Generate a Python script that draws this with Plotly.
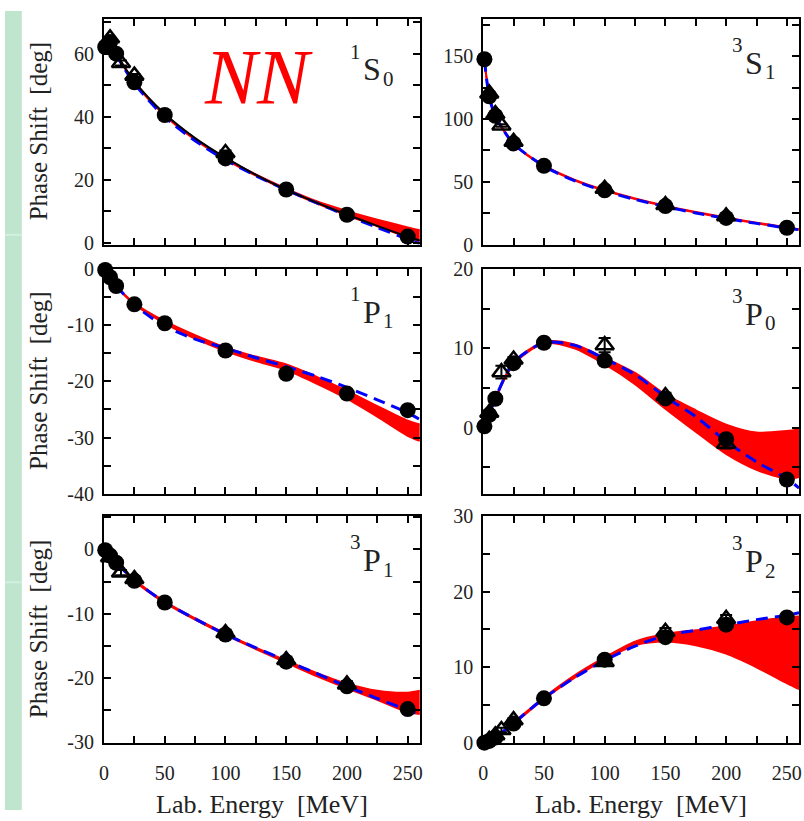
import plotly.graph_objects as go

# ---------------------------------------------------------------------------
# Energies (MeV)
# ---------------------------------------------------------------------------
E_GRID = [1, 5, 10, 25, 50, 75, 100, 125, 150, 175, 200, 225, 250, 260]
E_PWA = [1, 5, 10, 25, 50, 100, 150, 200, 250]

# ---------------------------------------------------------------------------
# 1S0
# ---------------------------------------------------------------------------
S10_PWA = [62.07, 63.63, 59.96, 50.90, 40.54, 26.78, 16.94, 8.94, 2.04]
S10_LO = [62.0, 63.5, 59.9, 50.8, 40.4, 32.7, 26.5, 21.3, 16.7, 12.6, 8.8, 5.3, 1.8, 0.6]
S10_HI = [62.1, 63.7, 60.1, 51.1, 40.8, 33.1, 26.9, 21.7, 17.2, 13.2, 10.1, 7.4, 4.9, 4.0]
S10_BLUE = [62.0, 63.4, 59.6, 50.5, 39.9, 32.4, 26.3, 21.3, 16.8, 12.7, 8.7, 4.9, 1.2, -0.2]
S10_BLACK = [62.1, 63.6, 60.0, 51.2, 40.9, 33.2, 27.0, 21.6, 16.9, 12.8, 9.0, 5.4, 2.0, 0.8]
S10_TRI_E = [5, 14, 25, 100]
S10_TRI = [64.8, 57.0, 53.0, 28.5]
S10_TRI_ERR = [0.5, 0.8, 0.5, 0.8]

# ---------------------------------------------------------------------------
# 3S1
# ---------------------------------------------------------------------------
S31_PWA = [147.75, 118.18, 102.61, 80.63, 62.77, 43.23, 30.72, 21.22, 13.39]
S31_LO = [147.5, 117.8, 102.3, 80.3, 62.5, 51.3, 43.0, 36.3, 30.5, 25.5, 21.0, 17.0, 13.2, 11.8]
S31_HI = [148.0, 118.4, 102.9, 80.9, 63.1, 51.8, 43.5, 36.8, 31.0, 26.0, 21.5, 17.5, 13.7, 12.3]
S31_BLUE = [147.5, 118.0, 102.5, 80.5, 62.6, 51.0, 42.6, 36.0, 30.2, 25.2, 20.8, 16.9, 13.2, 11.8]
S31_TRI_E = [5, 10, 15, 25, 100, 150, 200]
S31_TRI = [120.5, 104.0, 95.0, 82.0, 44.5, 31.5, 22.5]
S31_TRI_ERR = [1.0, 1.0, 1.0, 1.0, 1.0, 1.0, 1.0]

# ---------------------------------------------------------------------------
# 1P1
# ---------------------------------------------------------------------------
P11_PWA = [-0.19, -1.49, -3.04, -6.31, -9.67, -14.52, -18.65, -22.18, -25.13]
P11_LO = [-0.2, -1.5, -3.0, -6.3, -9.7, -12.4, -14.6, -16.4, -18.0, -20.4, -23.1, -26.3, -29.7, -30.6]
P11_HI = [-0.2, -1.5, -3.0, -6.1, -9.3, -11.8, -14.0, -15.6, -17.0, -19.2, -21.7, -24.4, -27.0, -27.7]
P11_BLUE = [-0.2, -1.5, -3.0, -6.4, -10.2, -12.5, -14.1, -15.8, -17.4, -19.1, -21.1, -23.3, -25.6, -26.8]
P11_TRI_E = []
P11_TRI = []
P11_TRI_ERR = []

# ---------------------------------------------------------------------------
# 3P0
# ---------------------------------------------------------------------------
P30_PWA = [0.18, 1.63, 3.65, 8.13, 10.70, 8.46, 3.69, -1.44, -6.51]
P30_LO = [0.2, 1.6, 3.6, 8.0, 10.6, 10.0, 8.0, 5.5, 2.4, -0.5, -3.3, -5.3, -6.4, -6.2]
P30_HI = [0.2, 1.7, 3.7, 8.2, 10.8, 10.5, 8.8, 6.9, 4.2, 2.2, 0.4, -0.6, -0.4, -0.2]
P30_BLUE = [0.2, 1.7, 3.7, 8.2, 10.7, 10.4, 8.7, 6.7, 3.9, 1.4, -1.7, -4.3, -6.4, -7.6]
P30_TRI_E = [5, 15, 25, 100, 150, 200]
P30_TRI = [1.9, 7.0, 8.6, 10.4, 4.0, -2.0]
P30_TRI_ERR = [0.2, 0.8, 0.3, 0.9, 0.4, 0.6]

# ---------------------------------------------------------------------------
# 3P1
# ---------------------------------------------------------------------------
P31_PWA = [-0.11, -0.94, -2.06, -4.88, -8.25, -13.24, -17.46, -21.30, -24.84]
P31_LO = [-0.1, -0.9, -2.0, -4.9, -8.3, -10.9, -13.3, -15.5, -17.6, -19.7, -21.6, -23.4, -25.3, -25.6]
P31_HI = [-0.1, -0.9, -2.0, -4.7, -8.1, -10.7, -13.1, -15.3, -17.3, -19.2, -20.9, -22.0, -22.3, -22.0]
P31_BLUE = [-0.1, -0.9, -2.0, -4.8, -8.2, -10.8, -13.2, -15.3, -17.3, -19.3, -21.3, -23.2, -25.0, -25.7]
P31_TRI_E = [5, 14, 25, 100, 150, 200]
P31_TRI = [-1.2, -3.6, -4.6, -13.0, -17.2, -21.0]
P31_TRI_ERR = [0.2, 0.4, 0.3, 0.5, 0.5, 0.5]

# ---------------------------------------------------------------------------
# 3P2
# ---------------------------------------------------------------------------
P32_PWA = [0.02, 0.25, 0.71, 2.56, 5.89, 11.01, 13.98, 15.63, 16.59]
P32_LO = [0.0, 0.25, 0.7, 2.5, 5.8, 8.6, 11.0, 12.9, 13.4, 12.9, 11.8, 10.0, 7.9, 7.1]
P32_HI = [0.0, 0.25, 0.7, 2.7, 6.0, 8.9, 11.3, 13.4, 14.4, 14.9, 15.4, 16.1, 16.6, 16.7]
P32_BLUE = [0.0, 0.25, 0.7, 2.6, 5.9, 8.6, 10.9, 12.8, 14.2, 14.9, 15.6, 16.3, 16.9, 17.2]
P32_TRI_E = [5, 10, 15, 25, 100, 150, 200]
P32_TRI = [0.4, 1.0, 1.7, 3.0, 10.7, 14.7, 16.4]
P32_TRI_ERR = [0.1, 0.2, 0.3, 0.3, 0.4, 0.5, 0.5]

# Tick labels
X_TICKS = [0, 50, 100, 150, 200, 250]
Y_TICKS = {
    "1S0": [0, 20, 40, 60],
    "3S1": [0, 50, 100, 150],
    "1P1": [0, -10, -20, -30, -40],
    "3P0": [0, 10, 20],
    "3P1": [0, -10, -20, -30],
    "3P2": [0, 10, 20, 30],
}

# ---------------------------------------------------------------------------
# Panel table
# ---------------------------------------------------------------------------
panels = [
    dict(sup="1", main="S", sub="0", pwa=S10_PWA, lo=S10_LO, hi=S10_HI, blue=S10_BLUE,
         black=S10_BLACK, te=S10_TRI_E, tv=S10_TRI, terr=S10_TRI_ERR,
         ticks=Y_TICKS["1S0"], yr=[-0.5, 71], minor=10, row=0, col=0, lab=(371, 60)),
    dict(sup="3", main="S", sub="1", pwa=S31_PWA, lo=S31_LO, hi=S31_HI, blue=S31_BLUE,
         black=None, te=S31_TRI_E, tv=S31_TRI, terr=S31_TRI_ERR,
         ticks=Y_TICKS["3S1"], yr=[0, 180], minor=25, row=0, col=1, lab=(757, 53)),
    dict(sup="1", main="P", sub="1", pwa=P11_PWA, lo=P11_LO, hi=P11_HI, blue=P11_BLUE,
         black=None, te=P11_TRI_E, tv=P11_TRI, terr=P11_TRI_ERR,
         ticks=Y_TICKS["1P1"], yr=[-40, 0], minor=5, row=1, col=0, lab=(371, 309)),
    dict(sup="3", main="P", sub="0", pwa=P30_PWA, lo=P30_LO, hi=P30_HI, blue=P30_BLUE,
         black=None, te=P30_TRI_E, tv=P30_TRI, terr=P30_TRI_ERR,
         ticks=Y_TICKS["3P0"], yr=[-8.3, 20], minor=5, row=1, col=1, lab=(757, 311)),
    dict(sup="3", main="P", sub="1", pwa=P31_PWA, lo=P31_LO, hi=P31_HI, blue=P31_BLUE,
         black=None, te=P31_TRI_E, tv=P31_TRI, terr=P31_TRI_ERR,
         ticks=Y_TICKS["3P1"], yr=[-30.1, 5.2], minor=5, row=2, col=0, lab=(371, 564)),
    dict(sup="3", main="P", sub="2", pwa=P32_PWA, lo=P32_LO, hi=P32_HI, blue=P32_BLUE,
         black=None, te=P32_TRI_E, tv=P32_TRI, terr=P32_TRI_ERR,
         ticks=Y_TICKS["3P2"], yr=[0, 30], minor=5, row=2, col=1, lab=(757, 565)),
]

W, H = 804, 821
COL_PX = [(100, 419), (483, 802)]
ROW_PX = [(8, 240), (265, 496), (519, 752)]
SERIF = "Liberation Serif"


def px_x(v):
    return v / W


def px_y(v):
    return 1 - v / H


fig = go.Figure()
layout = dict(
    width=W, height=H, margin=dict(l=0, r=0, t=0, b=0),
    paper_bgcolor="white", plot_bgcolor="white", showlegend=False,
    font=dict(family=SERIF, color="#222222", size=20),
)
annotations = []

for i, p in enumerate(panels):
    n = i + 1
    xa, ya = f"x{n}", f"y{n}"
    x0, x1 = COL_PX[p["col"]]
    y0, y1 = ROW_PX[p["row"]]
    bottom_row = p["row"] == 2

    axis_common = dict(
        showline=True, linewidth=2, linecolor="black", mirror="ticks",
        ticks="inside", ticklen=7, tickwidth=2, tickcolor="black",
        showgrid=False, zeroline=False,
        tickfont=dict(family=SERIF, size=20, color="#222222"),
    )
    layout[f"xaxis{n}"] = dict(
        axis_common, domain=[px_x(x0), px_x(x1)], anchor=ya, range=[0, 260],
        tickmode="array", tickvals=X_TICKS, ticktext=[str(t) for t in X_TICKS],
        showticklabels=bottom_row, ticklabelstandoff=11,
        minor=dict(tickmode="linear", tick0=0, dtick=25, ticks="inside",
                   ticklen=7, tickwidth=2, tickcolor="black"),
    )
    layout[f"yaxis{n}"] = dict(
        axis_common, domain=[px_y(y1), px_y(y0)], anchor=xa, range=p["yr"],
        tickmode="array", tickvals=p["ticks"], ticktext=[str(t) for t in p["ticks"]],
        ticklabelstandoff=4,
        minor=dict(tickmode="linear", tick0=0, dtick=p["minor"], ticks="inside",
                   ticklen=7, tickwidth=2, tickcolor="black"),
    )

    common = dict(xaxis=xa, yaxis=ya, showlegend=False, hoverinfo="skip")
    # uncertainty band
    fig.add_trace(go.Scatter(x=E_GRID, y=p["lo"], mode="lines",
                             line=dict(color="#ff0000", width=2, shape="spline", smoothing=0.8),
                             **common))
    fig.add_trace(go.Scatter(x=E_GRID, y=p["hi"], mode="lines", fill="tonexty",
                             fillcolor="#ff0000",
                             line=dict(color="#ff0000", width=2, shape="spline", smoothing=0.8),
                             **common))
    # dashed curve
    fig.add_trace(go.Scatter(x=E_GRID, y=p["blue"], mode="lines",
                             line=dict(color="#0000ff", width=3, dash="12px,7px",
                                       shape="spline", smoothing=0.8),
                             **common))
    if p["black"] is not None:
        fig.add_trace(go.Scatter(x=E_GRID, y=p["black"], mode="lines",
                                 line=dict(color="black", width=2, shape="spline", smoothing=0.8),
                                 **common))
    # open triangles with error bars
    if p["te"]:
        fig.add_trace(go.Scatter(x=p["te"], y=p["tv"], mode="markers", cliponaxis=False,
                                 marker=dict(symbol="triangle-up-open", size=16,
                                             color="black", line=dict(width=2.5, color="black")),
                                 error_y=dict(type="data", array=p["terr"], color="black",
                                              thickness=2, width=6),
                                 **common))
    # filled circles
    fig.add_trace(go.Scatter(x=E_PWA, y=p["pwa"], mode="markers", cliponaxis=False,
                             marker=dict(symbol="circle", size=16, color="black"),
                             **common))

    # channel label  ^{2S+1}L_J
    lx, ly = p["lab"]
    annotations.append(dict(x=px_x(lx), y=px_y(ly), xref="paper", yref="paper",
                            text=p["main"], showarrow=False, xanchor="center", yanchor="middle",
                            font=dict(family=SERIF, size=32, color="#222222")))
    annotations.append(dict(x=px_x(lx - 17), y=px_y(ly - 18), xref="paper", yref="paper",
                            text=p["sup"], showarrow=False, xanchor="center", yanchor="middle",
                            font=dict(family=SERIF, size=21, color="#222222")))
    annotations.append(dict(x=px_x(lx + 16), y=px_y(ly + 10), xref="paper", yref="paper",
                            text=p["sub"], showarrow=False, xanchor="center", yanchor="middle",
                            font=dict(family=SERIF, size=21, color="#222222")))

    # axis titles
    if p["col"] == 0:
        annotations.append(dict(x=px_x(34), y=px_y((y0 + y1) / 2), xref="paper", yref="paper",
                                text="Phase Shift  [deg]", textangle=-90, showarrow=False,
                                xanchor="center", yanchor="middle",
                                font=dict(family=SERIF, size=25, color="#222222")))
    if bottom_row:
        annotations.append(dict(x=px_x((x0 + x1) / 2), y=px_y(815), xref="paper", yref="paper",
                                text="Lab. Energy  [MeV]", showarrow=False,
                                xanchor="center", yanchor="middle",
                                font=dict(family=SERIF, size=26, color="#222222")))

annotations.append(dict(x=px_x(256), y=px_y(67), xref="paper", yref="paper",
                        text="<i>NN</i>", showarrow=False, xanchor="center", yanchor="middle",
                        font=dict(family=SERIF, size=78, color="#ff0000")))

layout["annotations"] = annotations
layout["shapes"] = [
    dict(type="rect", xref="paper", yref="paper", x0=0, x1=px_x(17), y0=0, y1=1,
         fillcolor="#bfe5cf", line=dict(width=0), layer="below"),
    dict(type="line", xref="paper", yref="paper", x0=0, x1=px_x(17), y0=px_y(230), y1=px_y(230),
         line=dict(color="#d4efe0", width=2), layer="below"),
    dict(type="line", xref="paper", yref="paper", x0=0, x1=px_x(17), y0=px_y(587), y1=px_y(587),
         line=dict(color="#d4efe0", width=2), layer="below"),
]
fig.update_layout(**layout)
fig.write_html("out.html")
